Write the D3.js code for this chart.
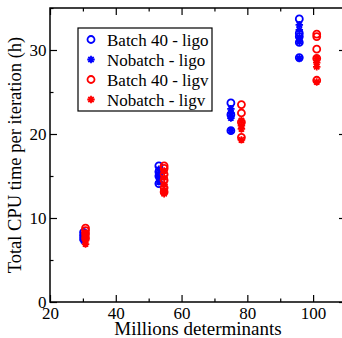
<!DOCTYPE html>
<html>
<head>
<meta charset="utf-8">
<script src="https://cdn.jsdelivr.net/npm/d3@7"></script>
<style>
  body { margin: 0; background: #fff; }
  svg { display: block; }
  svg text { font-family: "Liberation Serif", "Times New Roman", serif; }
</style>
</head>
<body>
<div class="chart"></div>
<script>
const width = 342;
const height = 338;
const margin = { top: 8, right: -4, bottom: 36, left: 50 };
const serif = "Liberation Serif, Times New Roman, serif";

// millions of determinants for each group of runs
const ligoDets = [30.2, 53.1, 75.0, 95.8];
const ligvDets = [30.8, 54.7, 78.2, 101.1];

// CPU time per iteration (h), one list per determinant count
const batchLigo = [[8.3, 7.9, 7.5], [16.2, 15.5, 15.0, 14.1], [23.7, 22.3, 20.4], [33.7, 32.0, 31.6, 30.9, 29.1]];
const nobatchLigo = [[8.0, 7.7, 7.3], [15.8, 15.2, 14.8, 14.3], [23.0, 22.5, 21.9, 20.4], [33.0, 32.4, 31.5, 31.0, 29.0]];
const batchLigv = [[8.8, 8.5, 8.1, 7.6], [16.2, 15.9, 15.2, 14.5, 13.6, 13.1], [23.5, 22.5, 21.4, 19.6], [31.9, 31.6, 30.1, 29.0, 26.4]];
const nobatchLigv = [[8.2, 7.8, 7.3, 6.9], [15.6, 14.8, 14.0, 13.3, 12.9], [21.6, 21.0, 20.6, 19.3], [29.0, 28.5, 28.0, 26.2]];

const seriesNames = ["Batch 40 - ligo", "Nobatch - ligo", "Batch 40 - ligv", "Nobatch - ligv"];
const xTicks = [20, 40, 60, 80, 100];
const yTicks = [0, 10, 20, 30];

const series = [
  { name: seriesNames[0], dets: ligoDets, vals: batchLigo, color: "#0000ff", mark: "circle" },
  { name: seriesNames[1], dets: ligoDets, vals: nobatchLigo, color: "#0000ff", mark: "star" },
  { name: seriesNames[2], dets: ligvDets, vals: batchLigv, color: "#ff0000", mark: "circle" },
  { name: seriesNames[3], dets: ligvDets, vals: nobatchLigv, color: "#ff0000", mark: "star" }
];

const x = d3.scaleLinear().domain([20, 110]).range([margin.left, width - margin.right]);
const y = d3.scaleLinear().domain([0, 35]).range([height - margin.bottom, margin.top]);

const svg = d3.select("div.chart")
  .append("svg")
  .attr("width", width)
  .attr("height", height)
  .attr("viewBox", [0, 0, width, height]);

// 8 armed asterisk like the grace "star" symbol
const star = {
  draw(ctx, size) {
    const r = Math.sqrt(size) / 2;
    const d = r * Math.SQRT1_2;
    ctx.moveTo(-r, 0); ctx.lineTo(r, 0);
    ctx.moveTo(0, -r); ctx.lineTo(0, r);
    ctx.moveTo(-d, -d); ctx.lineTo(d, d);
    ctx.moveTo(-d, d); ctx.lineTo(d, -d);
  }
};

function drawMark(g, s) {
  if (s.mark === "circle") {
    g.append("circle").attr("r", 3.5)
      .attr("fill", "none").attr("stroke", s.color).attr("stroke-width", 1.8);
  } else {
    g.append("path").attr("d", d3.symbol(star, 56)())
      .attr("fill", "none").attr("stroke", s.color).attr("stroke-width", 1.8);
  }
}

// points
series.forEach(s => {
  const pts = s.vals.flatMap((v, i) => v.map(t => [s.dets[i], t]));
  svg.append("g").selectAll("g")
    .data(pts)
    .join("g")
    .attr("transform", d => `translate(${x(d[0])},${y(d[1])})`)
    .each(function() { drawMark(d3.select(this), s); });
});

// axes, ticks pointing inward like xmgrace
const axisStyle = g => {
  g.attr("font-family", serif).attr("font-size", 17);
  g.select(".domain").remove();
  g.selectAll(".tick line").attr("stroke", "#000").attr("stroke-width", 1.2);
  g.selectAll(".tick text").attr("fill", "#000").attr("font-family", serif).attr("font-size", 17);
};

const bottomY = height - margin.bottom;

svg.append("g")
  .attr("transform", `translate(0,${bottomY})`)
  .call(d3.axisBottom(x).tickValues(d3.range(30, 110, 20)).tickSize(-3.5).tickFormat(""))
  .call(axisStyle);
svg.append("g")
  .attr("transform", `translate(0,${bottomY})`)
  .call(d3.axisBottom(x).tickValues(xTicks).tickSizeInner(-7).tickSizeOuter(0).tickPadding(5))
  .call(axisStyle);

svg.append("g")
  .attr("transform", `translate(0,${margin.top})`)
  .call(d3.axisTop(x).tickValues(d3.range(30, 110, 20)).tickSize(-3.5).tickFormat(""))
  .call(axisStyle);
svg.append("g")
  .attr("transform", `translate(0,${margin.top})`)
  .call(d3.axisTop(x).tickValues(xTicks).tickSize(-7).tickFormat(""))
  .call(axisStyle);

svg.append("g")
  .attr("transform", `translate(${margin.left},0)`)
  .call(d3.axisLeft(y).tickValues([5, 15, 25, 35]).tickSize(-3.5).tickFormat(""))
  .call(axisStyle);
svg.append("g")
  .attr("transform", `translate(${margin.left},0)`)
  .call(d3.axisLeft(y).tickValues(yTicks).tickSizeInner(-7).tickSizeOuter(0).tickPadding(3.5))
  .call(axisStyle);

svg.append("g")
  .attr("transform", `translate(${x(110)},0)`)
  .call(d3.axisRight(y).tickValues([5, 15, 25, 35]).tickSize(-3.5).tickFormat(""))
  .call(axisStyle);
svg.append("g")
  .attr("transform", `translate(${x(110)},0)`)
  .call(d3.axisRight(y).tickValues(yTicks).tickSize(-7).tickFormat(""))
  .call(axisStyle);

// frame
svg.append("path")
  .attr("d", `M${x(110)},${y(35)}H${x(20)}V${y(0)}H${x(110)}`)
  .attr("fill", "none")
  .attr("stroke", "#000")
  .attr("stroke-width", 1.5);

// axis titles
svg.append("text")
  .attr("x", (x(20) + x(110)) / 2)
  .attr("y", 335)
  .attr("text-anchor", "middle")
  .attr("font-family", serif)
  .attr("font-size", 19)
  .text("Millions determinants");

svg.append("text")
  .attr("transform", `translate(21,${(y(0) + y(35)) / 2}) rotate(-90)`)
  .attr("text-anchor", "middle")
  .attr("font-family", serif)
  .attr("font-size", 18.5)
  .text("Total CPU time per iteration (h)");

// legend
const legend = svg.append("g").attr("transform", "translate(78,28)");
legend.append("rect")
  .attr("width", 134).attr("height", 83)
  .attr("fill", "#fff").attr("stroke", "#000").attr("stroke-width", 1.2);

const entry = legend.selectAll("g.entry")
  .data(series)
  .join("g")
  .attr("class", "entry")
  .attr("transform", (d, i) => `translate(0,${11.5 + i * 20})`);

entry.append("g")
  .attr("transform", "translate(13,0)")
  .each(function(d) { drawMark(d3.select(this), d); });

entry.append("text")
  .attr("x", 29)
  .attr("y", 6)
  .attr("font-family", serif)
  .attr("font-size", 17)
  .text(d => d.name);
</script>
</body>
</html>
